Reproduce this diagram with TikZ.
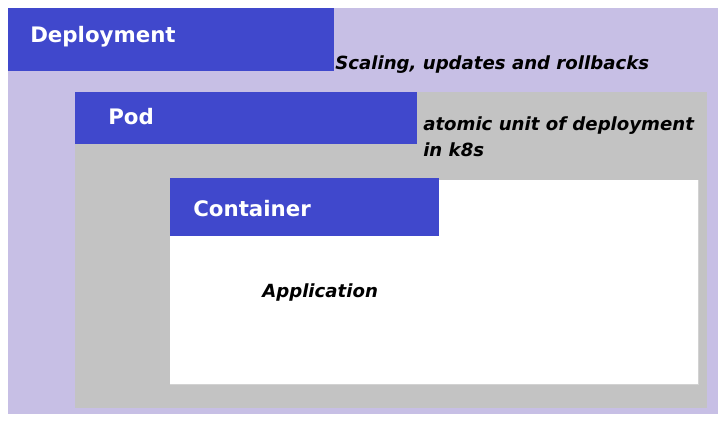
\documentclass[tikz,border=0pt]{standalone}
\usepackage{fontspec}
\setmainfont{DejaVu Sans}
\usepackage{xcolor}
\definecolor{lavender}{RGB}{199,191,229}
\definecolor{boxblue}{RGB}{64,72,204}
\definecolor{podgray}{RGB}{195,195,195}
\tikzset{
  titletext/.style={anchor=base west,inner sep=0pt,text=white,font=\bfseries\fontsize{16}{19}\selectfont},
  notetext/.style={anchor=base west,inner sep=0pt,text=black,font=\bfseries\itshape\fontsize{13.6}{16}\selectfont},
}

\begin{document}
\begin{tikzpicture}[x=0.75pt,y=0.75pt,yscale=-1,xscale=1]
\useasboundingbox (0,0) rectangle (726,423);

%Deployment area
\fill [lavender] (8,8) rectangle (718,414);
\fill [boxblue] (8,8) rectangle (334,71);
%Pod area
\fill [podgray] (75,92) rectangle (707,408);
\fill [boxblue] (75,92) rectangle (417,144);
%Container area
\fill [white] (170,180) rectangle (698,384);
\draw [gray!35, line width=0.6] (170,384) -- (698,384) -- (698,180);
\fill [boxblue] (170,178) rectangle (439,236);

% Text Node
\node [titletext] (deploy) at (30,43) {Deployment};
% Text Node
\node [notetext] (scaling) at (335,70) {Scaling, updates and rollbacks};
% Text Node
\node [titletext] (pod) at (108,125) {Pod};
% Text Node
\node [notetext] (atomic) at (423,131) {atomic unit of deployment};
% Text Node
\node [notetext] (ink8s) at (423,157) {in k8s};
% Text Node
\node [titletext] (container) at (193,217) {Container};
% Text Node
\node [notetext] (app) at (262,298) {Application};

\end{tikzpicture}
\end{document}
